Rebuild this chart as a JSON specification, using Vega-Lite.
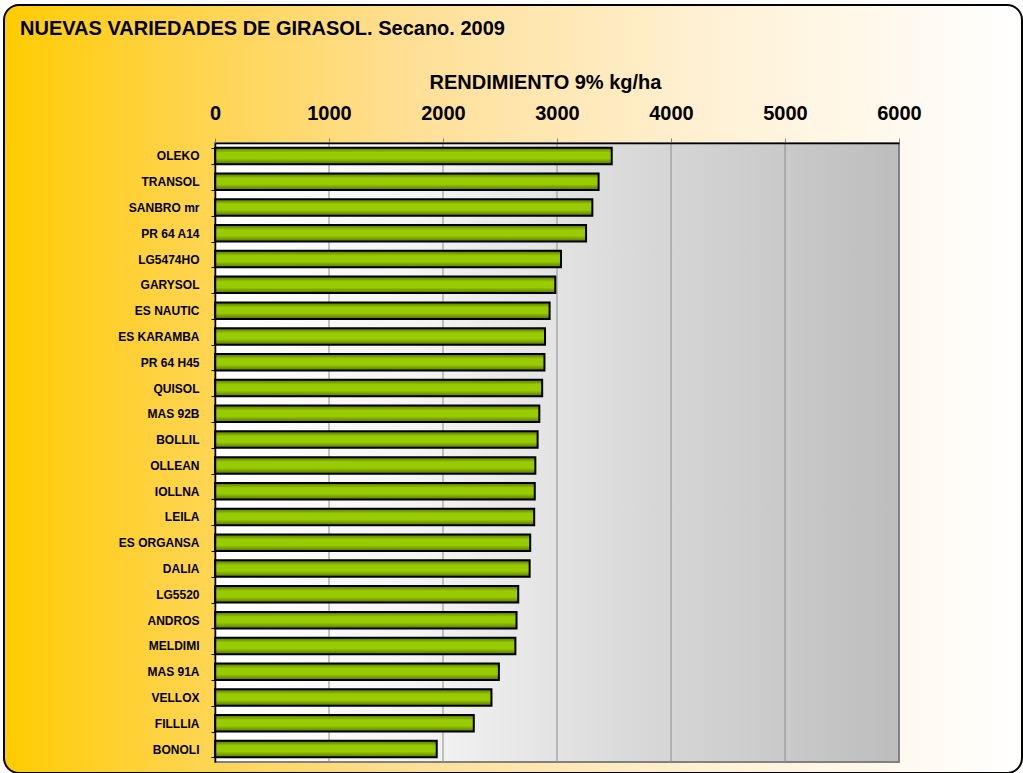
{
  "$schema": "https://vega.github.io/schema/vega-lite/v6.json",
  "width": 1018,
  "height": 768,
  "autosize": {"type": "none"},
  "padding": {"left": 4, "top": 5, "right": 1, "bottom": 0},
  "background": "#ffffff",
  "title": {
    "text": "NUEVAS VARIEDADES DE GIRASOL. Secano. 2009",
    "anchor": "start",
    "frame": "group",
    "offset": -56,
    "baseline": "alphabetic",
    "dx": 16,
    "font": "Liberation Sans",
    "fontSize": 20,
    "fontWeight": "bold",
    "color": "#000000"
  },
  "config": {
    "view": {
      "fill": {
        "gradient": "linear",
        "x1": 0, "y1": 0, "x2": 1, "y2": 0,
        "stops": [
          {"offset": 0, "color": "#FFCC00"},
          {"offset": 0.15, "color": "#FFD240"},
          {"offset": 0.4, "color": "#FFDF95"},
          {"offset": 0.7, "color": "#FFF1D6"},
          {"offset": 1, "color": "#FFFFFF"}
        ]
      },
      "stroke": "#000000",
      "strokeWidth": 2,
      "cornerRadius": 15
    },
    "font": "Liberation Sans"
  },
  "data": {
    "values": [
      {"variedad": "OLEKO", "rendimiento": 3480},
      {"variedad": "TRANSOL", "rendimiento": 3365},
      {"variedad": "SANBRO mr", "rendimiento": 3310},
      {"variedad": "PR 64 A14", "rendimiento": 3255},
      {"variedad": "LG5474HO", "rendimiento": 3035},
      {"variedad": "GARYSOL", "rendimiento": 2985},
      {"variedad": "ES NAUTIC", "rendimiento": 2935},
      {"variedad": "ES KARAMBA", "rendimiento": 2895},
      {"variedad": "PR 64 H45", "rendimiento": 2890},
      {"variedad": "QUISOL", "rendimiento": 2870},
      {"variedad": "MAS 92B", "rendimiento": 2845},
      {"variedad": "BOLLIL", "rendimiento": 2830},
      {"variedad": "OLLEAN", "rendimiento": 2810},
      {"variedad": "IOLLNA", "rendimiento": 2805},
      {"variedad": "LEILA", "rendimiento": 2800},
      {"variedad": "ES ORGANSA", "rendimiento": 2765},
      {"variedad": "DALIA", "rendimiento": 2760},
      {"variedad": "LG5520", "rendimiento": 2660},
      {"variedad": "ANDROS", "rendimiento": 2645},
      {"variedad": "MELDIMI", "rendimiento": 2635},
      {"variedad": "MAS 91A", "rendimiento": 2490},
      {"variedad": "VELLOX", "rendimiento": 2425},
      {"variedad": "FILLLIA", "rendimiento": 2270},
      {"variedad": "BONOLI", "rendimiento": 1945}
    ]
  },
  "resolve": {"scale": {"y": "independent"}},
  "layer": [
    {
      "data": {"values": [{"area": "plot"}]},
      "mark": {
        "type": "rect",
        "fill": {
          "gradient": "linear",
          "x1": 0, "y1": 0, "x2": 1, "y2": 0,
          "stops": [
            {"offset": 0, "color": "#FFFFFF"},
            {"offset": 0.3, "color": "#F4F4F4"},
            {"offset": 0.6, "color": "#DADADA"},
            {"offset": 1, "color": "#BDBDBD"}
          ]
        },
        "stroke": "#808080",
        "strokeWidth": 2
      },
      "encoding": {
        "x": {"datum": 0, "type": "quantitative", "scale": {"domain": [0, 6000], "range": [211, 895], "nice": false, "zero": true}},
        "x2": {"datum": 6000},
        "y": {"datum": 0, "type": "quantitative", "scale": {"domain": [0, 1], "range": [138, 757], "nice": false, "zero": false}, "axis": null},
        "y2": {"datum": 1}
      }
    },
    {
      "data": {"values": [{"v": 1000}, {"v": 2000}, {"v": 3000}, {"v": 4000}, {"v": 5000}]},
      "mark": {"type": "rule", "stroke": "#8C8C8C", "strokeWidth": 1},
      "encoding": {
        "x": {"field": "v", "type": "quantitative", "scale": {"domain": [0, 6000], "range": [211, 895], "nice": false, "zero": true}},
        "y": {"datum": 0, "type": "quantitative", "scale": {"domain": [0, 1], "range": [138, 757], "nice": false, "zero": false}, "axis": null},
        "y2": {"datum": 1}
      }
    },
    {
      "mark": {
        "type": "bar",
        "fill": {
          "gradient": "linear",
          "x1": 0, "y1": 0, "x2": 0, "y2": 1,
          "stops": [
            {"offset": 0, "color": "#557200"},
            {"offset": 0.3, "color": "#99CC00"},
            {"offset": 0.65, "color": "#99CC00"},
            {"offset": 1, "color": "#557200"}
          ]
        },
        "stroke": "#000000",
        "strokeWidth": 2
      },
      "encoding": {
        "x": {
          "field": "rendimiento",
          "type": "quantitative",
          "scale": {"domain": [0, 6000], "range": [211, 895], "nice": false, "zero": true},
          "axis": {
            "orient": "top",
            "offset": -138,
            "zindex": 1,
            "values": [0, 1000, 2000, 3000, 4000, 5000, 6000],
            "format": "d",
            "grid": false,
            "labelFlush": false,
            "labelOverlap": false,
            "domainColor": "#000000",
            "domainWidth": 1.5,
            "tickColor": "#808080",
            "tickSize": 5,
            "tickWidth": 1,
            "labelFont": "Liberation Sans",
            "labelFontSize": 20,
            "labelFontWeight": "bold",
            "labelColor": "#000000",
            "labelBaseline": "alphabetic",
            "labelPadding": 19,
            "title": "RENDIMIENTO 9% kg/ha",
            "titleFont": "Liberation Sans",
            "titleFontSize": 20,
            "titleFontWeight": "bold",
            "titleColor": "#000000",
            "titleBaseline": "alphabetic",
            "titleAlign": "center",
            "titleX": 541,
            "titleY": -55
          }
        },
        "y": {
          "field": "variedad",
          "type": "nominal",
          "sort": null,
          "scale": {"range": [138, 757], "paddingInner": 0.36, "paddingOuter": 0.18},
          "axis": {
            "orient": "left",
            "offset": -211,
            "zindex": 1,
            "title": null,
            "domainColor": "#000000",
            "domainWidth": 1.5,
            "tickColor": "#000000",
            "tickSize": 4,
            "tickBand": "extent",
            "labelFont": "Liberation Sans",
            "labelFontSize": 12,
            "labelFontWeight": "bold",
            "labelColor": "#000000",
            "labelPadding": 12
          }
        }
      }
    }
  ]
}
